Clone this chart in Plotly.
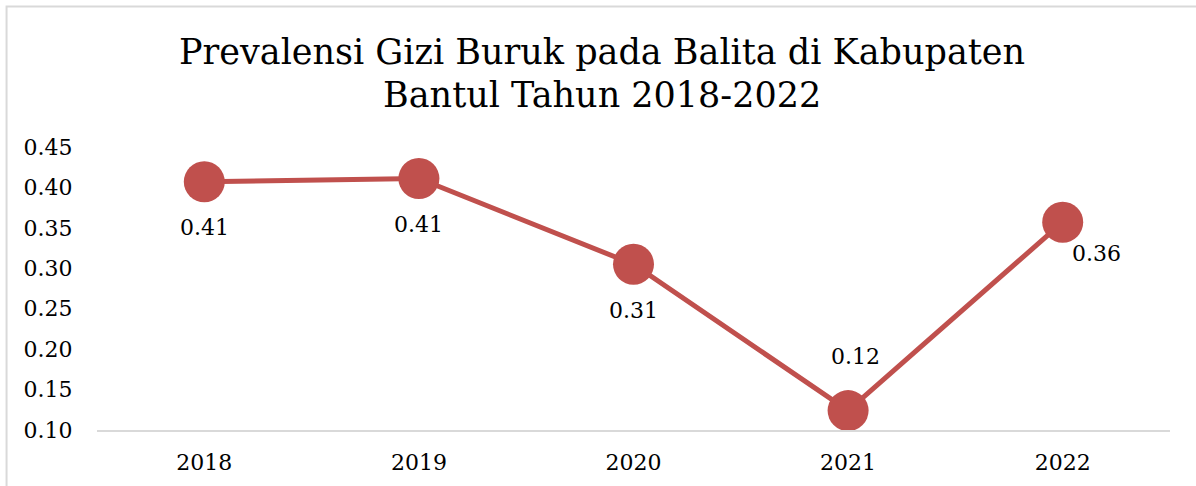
import plotly.graph_objects as go

years = ["2018", "2019", "2020", "2021", "2022"]
values = [0.407, 0.411, 0.305, 0.124, 0.357]
labels = ["0.41", "0.41", "0.31", "0.12", "0.36"]
y_ticks = [0.10, 0.15, 0.20, 0.25, 0.30, 0.35, 0.40, 0.45]
title_lines = ["Prevalensi Gizi Buruk pada Balita di Kabupaten", "Bantul Tahun 2018-2022"]

FONT = "DejaVu Serif"
RED = "#C0504D"

fig = go.Figure()
fig.add_trace(go.Scatter(
    x=years, y=values, mode="lines+markers",
    line=dict(color=RED, width=5),
    marker=dict(color=RED, size=41),
    hoverinfo="x+y", showlegend=False,
))

# label placement offsets (px): below, below, below, above, right-below
offsets = [(0, -46), (0, -46), (0, -46), (7, 54), (34, -31)]
for i, (v, lab, (dx, dy)) in enumerate(zip(values, labels, offsets)):
    fig.add_annotation(x=i, y=v, text=lab, showarrow=False,
                       xshift=dx, yshift=dy,
                       font=dict(family=FONT, size=22, color="#000000"))

fig.add_annotation(xref="paper", yref="paper", x=0.4706, y=1.335, text=title_lines[0],
                   showarrow=False, font=dict(family=FONT, size=35, color="#000000"),
                   xanchor="center", yanchor="middle")
fig.add_annotation(xref="paper", yref="paper", x=0.4706, y=1.1837, text=title_lines[1],
                   showarrow=False, font=dict(family=FONT, size=35, color="#000000"),
                   xanchor="center", yanchor="middle")

# chart border (partially visible: top and left edges)
fig.add_shape(type="rect", xref="paper", yref="paper",
              x0=-0.0843, y0=-0.5, x1=1.2, y1=1.4965,
              line=dict(color="#D9D9D9", width=2), fillcolor="rgba(0,0,0,0)", layer="below")

fig.update_layout(
    width=1196, height=486,
    margin=dict(l=97, r=26, t=147, b=56),
    paper_bgcolor="white", plot_bgcolor="white",
    font=dict(family=FONT, size=22, color="#000000"),
    xaxis=dict(type="category", range=[-0.5, 4.5], autorange=False,
               showgrid=False, zeroline=False,
               showline=True, linecolor="#D9D9D9", linewidth=2,
               ticks="outside", ticklen=12, tickcolor="rgba(0,0,0,0)",
               tickfont=dict(family=FONT, size=22, color="#000000")),
    yaxis=dict(range=[0.10, 0.45], autorange=False, tickvals=y_ticks, tickformat=".2f",
               showgrid=False, zeroline=False, showline=False,
               ticks="outside", ticklen=19, tickcolor="rgba(0,0,0,0)",
               tickfont=dict(family=FONT, size=22, color="#000000")),
)

fig.write_html("out.html", config={"displayModeBar": False},
               post_script="document.body.style.margin='0';document.body.style.overflow='hidden';")
